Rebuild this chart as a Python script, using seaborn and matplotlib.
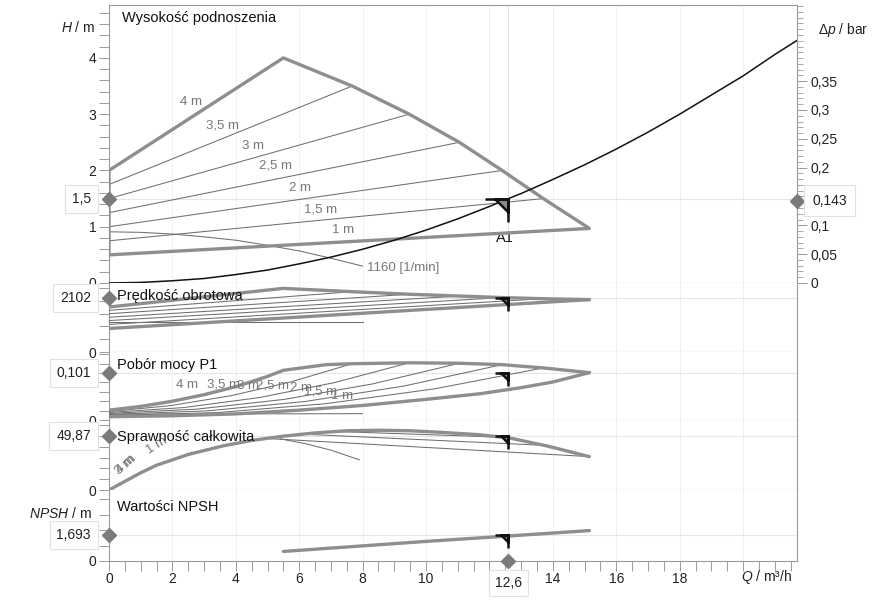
import matplotlib
matplotlib.use("Agg")
import matplotlib.pyplot as plt
from matplotlib.path import Path
from matplotlib.ticker import MultipleLocator, FuncFormatter
import seaborn as sns

# ---------------- operating point A1 ----------------
q_op = 12.6
h_op = 1.5
dp_op = 0.143
n_op = 2102
p1_op = 0.101
eta_op = 49.87
npsh_op = 1.693

# ---------------- head H / m ----------------
h_env_q = [0, 0, 5.5, 7.67, 9.47, 11.05, 12.4, 13.7, 15.15, 0]
h_env_h = [0.5, 2.0, 4.0, 3.5, 3.0, 2.5, 2.0, 1.5, 0.97, 0.5]
h_set_labels = ["3,5 m", "3 m", "2,5 m", "2 m", "1,5 m"]
h_set_q_end = [7.67, 9.47, 11.05, 12.4, 13.7]
h_set_h_start = [1.75, 1.5, 1.25, 1.0, 0.75]
h_set_h_end = [3.5, 3.0, 2.5, 2.0, 1.5]
h_1160_q = [0, 1, 2, 3, 4, 5, 6, 7, 8]
h_1160_h = [0.91, 0.90, 0.87, 0.82, 0.76, 0.67, 0.57, 0.44, 0.30]
sys_q = [0, 1, 2, 3, 4, 5, 6, 7, 8, 9, 10, 11, 12, 12.6, 13, 14, 15, 16, 17, 18, 19, 20, 21, 21.7]
sys_h = [0, 0.01, 0.04, 0.08, 0.15, 0.23, 0.34, 0.46, 0.6, 0.76, 0.94, 1.14, 1.36, 1.5, 1.59,
         1.84, 2.1, 2.38, 2.68, 3.0, 3.34, 3.68, 4.06, 4.31]

# ---------------- speed / rpm ----------------
n_env_q = [0, 5.5, 7.67, 9.47, 11.05, 12.4, 13.7, 15.15]
n_env_v = [1760, 2490, 2360, 2260, 2190, 2130, 2085, 2050]
n_min_q = [0, 15.15]
n_min_v = [920, 2050]
n_set_start = [1630, 1500, 1360, 1230, 1080]
n_set_end = [2360, 2260, 2190, 2130, 2085]
n_1160_q = [0, 8.0]
n_1160_v = [1160, 1160]

# ---------------- power P1 / kW ----------------
p_env_q = [0, 1, 2, 3, 4, 5, 5.5, 6.85, 7.67, 9.47, 11.05, 12.4, 13.7, 15.15]
p_env_v = [0.021, 0.029, 0.040, 0.054, 0.071, 0.093, 0.106, 0.118, 0.120, 0.122, 0.121, 0.118, 0.111, 0.101]
p_min_q = [0, 2, 4, 6, 8, 10, 11.7, 13, 14, 15.15]
p_min_v = [0.007, 0.009, 0.013, 0.021, 0.031, 0.044, 0.056, 0.069, 0.081, 0.101]
p_35_q = [0, 1.92, 3.84, 5.75, 7.67]
p_35_v = [0.018, 0.0305, 0.0517, 0.0815, 0.120]
p_30_q = [0, 2.37, 4.74, 7.10, 9.47]
p_30_v = [0.016, 0.0266, 0.0478, 0.0796, 0.122]
p_25_q = [0, 2.76, 5.53, 8.29, 11.05]
p_25_v = [0.014, 0.0231, 0.044, 0.0766, 0.121]
p_20_q = [0, 3.1, 6.2, 9.3, 12.4]
p_20_v = [0.012, 0.0194, 0.0396, 0.0724, 0.118]
p_15_q = [0, 3.43, 6.85, 10.28, 13.7]
p_15_v = [0.0095, 0.0158, 0.0349, 0.0666, 0.111]
p_1160_q = [0, 8.0]
p_1160_v = [0.0125, 0.0135]
p_labels = ["4 m", "3,5 m", "3 m", "2,5 m", "2 m", "1,5 m", "1 m"]

# ---------------- efficiency / % ----------------
e_env_q = [0, 0.5, 1, 1.5, 2.5, 3.6, 4.5, 5.5, 6.5, 7.5, 8.5, 9.5, 10.5, 11.6, 12.6, 13.8, 15.15]
e_env_v = [0, 8, 16, 23, 33, 41, 46, 50, 53, 55, 55.5, 55, 53.5, 51.5, 48.5, 41, 31]
e_1m_q = [5.0, 15.15]
e_1m_v = [47.8, 31]
e_15_q = [6.0, 13.7]
e_15_v = [52, 41.5]
e_20_q = [7.0, 12.4]
e_20_v = [54.5, 49]
e_1160_q = [5.4, 6.2, 7.0, 7.9]
e_1160_v = [47.5, 43, 37, 28]

# ---------------- NPSH / m ----------------
npsh_q = [5.5, 8, 10, 12.6, 15.15]
npsh_v = [0.62, 0.98, 1.27, 1.62, 1.97]

x_ticks = [0, 2, 4, 6, 8, 10, 12, 14, 16, 18]
x_tick_labels = ["0", "2", "4", "6", "8", "10", "", "14", "16", "18"]
dp_ticks = [0, 0.05, 0.1, 0.15, 0.2, 0.25, 0.3, 0.35]
dp_tick_labels = ["0", "0,05", "0,1", "", "0,2", "0,25", "0,3", "0,35"]

# ---------------- style ----------------
sns.set_style("ticks")
plt.rcParams["font.family"] = ["Liberation Sans", "DejaVu Sans"]
plt.rcParams["mathtext.fontset"] = "custom"
plt.rcParams["mathtext.rm"] = "Liberation Sans"
plt.rcParams["mathtext.it"] = "Liberation Sans:italic"

THICK = "#8e8e8e"
THIN = "#6f6f6f"
SPINE = "#9a9a9a"
FAINT = "#e6e6e6"
LABEL_GREY = "#777777"
MARK = "#7b7b7b"
BOX = dict(boxstyle="square,pad=0.5", fc="white", ec="#e2e2e2", lw=0.8)

W, H = 880, 607
X_LEFT, X_RIGHT = 109, 797
Q_MAX = 21.7

fig = plt.figure(figsize=(W / 100, H / 100), dpi=100)


def panel(top_px, bottom_px):
    return fig.add_axes([X_LEFT / W, 1 - bottom_px / H, (X_RIGHT - X_LEFT) / W,
                         (bottom_px - top_px) / H])


ax_h = panel(5, 283)
ax_n = panel(283, 352)
ax_p = panel(352, 420)
ax_e = panel(420, 490)
ax_s = panel(490, 561)
axes = [ax_h, ax_n, ax_p, ax_e, ax_s]


def line(ax, q, v, thick=False, color=None, lw=None, z=3):
    sns.lineplot(x=q, y=v, ax=ax, sort=False, estimator=None, legend=False,
                 color=color or (THICK if thick else THIN),
                 lw=lw or (2.4 if thick else 0.75), zorder=z)


zero_fmt = FuncFormatter(lambda v, _: "0" if abs(v) < 1e-9 else "")

# A1 marker: bar, stem and filled corner triangle
a1_path = Path(
    [(-0.55, 0), (0, 0), (0, -0.55), (-0.55, 0), (-1, 0), (0.06, 0), (0, 0.04), (0, -1)],
    [Path.MOVETO, Path.LINETO, Path.LINETO, Path.CLOSEPOLY, Path.MOVETO, Path.LINETO,
     Path.MOVETO, Path.LINETO])

for ax in axes:
    ax.set_xlim(0, Q_MAX)
    for s in ["left", "right", "bottom", "top"]:
        ax.spines[s].set_color(SPINE)
        ax.spines[s].set_linewidth(0.8)
    ax.spines["top"].set_visible(ax is ax_h)
    ax.tick_params(axis="y", which="both", direction="out", length=7, width=0.7,
                   color=SPINE, labelsize=10, labelcolor="#222222", pad=2)
    ax.tick_params(axis="x", which="both", bottom=False, labelbottom=False)
    for gq in range(2, 22, 2):
        ax.axvline(gq, color="#efefef", lw=0.6, zorder=0)
    ax.axvline(q_op, color="#dedede", lw=0.7, zorder=0)
    ax.set_xlabel("")
    ax.set_ylabel("")

# ---------------- head panel ----------------
ax_h.set_ylim(0, 4.94)
ax_h.yaxis.set_major_locator(MultipleLocator(1))
ax_h.yaxis.set_minor_locator(MultipleLocator(0.2))
ax_h.axhline(h_op, color=FAINT, lw=0.8, zorder=0)
line(ax_h, h_env_q, h_env_h, thick=True, z=4)
for qe, hs, he in zip(h_set_q_end, h_set_h_start, h_set_h_end):
    line(ax_h, [0, qe], [hs, he])
line(ax_h, h_1160_q, h_1160_h)
line(ax_h, sys_q, sys_h, color="#111111", lw=1.1, z=5)

h_label_pos = [(2.24, 3.22), (3.06, 2.79), (4.2, 2.44), (4.74, 2.08), (5.68, 1.69), (6.16, 1.30), (7.04, 0.94)]
for txt, (lq, lh) in zip(["4 m"] + h_set_labels + ["1 m"], h_label_pos):
    ax_h.text(lq, lh, txt, color=LABEL_GREY, fontsize=9.5, ha="left", va="center", zorder=6)
ax_h.text(8.15, 0.27, "1160 [1/min]", color=LABEL_GREY, fontsize=9.5, ha="left", va="center")
ax_h.text(12.5, 0.8, "A1", color="#111111", fontsize=10.5, ha="center", va="center")
ax_h.text(0.019, 0.953, "Wysokość podnoszenia", transform=ax_h.transAxes, fontsize=10.5,
          ha="left", va="center", color="#111111")

# differential pressure scale on the right
ax_dp = ax_h.twinx()
ax_dp.set_ylim(0, 0.482)
ax_dp.set_yticks(dp_ticks)
ax_dp.set_yticklabels(dp_tick_labels)
ax_dp.yaxis.set_minor_locator(MultipleLocator(0.01))
ax_dp.tick_params(axis="y", which="major", direction="out", length=7, width=0.7,
                  color=SPINE, labelsize=10, labelcolor="#222222", pad=3)
ax_dp.tick_params(axis="y", which="minor", direction="out", length=4, width=0.6, color=SPINE)
for s in ["left", "right", "bottom", "top"]:
    ax_dp.spines[s].set_visible(False)

# ---------------- speed panel ----------------
ax_n.set_ylim(0, 2700)
ax_n.yaxis.set_major_locator(MultipleLocator(500))
ax_n.axhline(n_op, color=FAINT, lw=0.8, zorder=0)
line(ax_n, n_env_q, n_env_v, thick=True, z=4)
line(ax_n, n_min_q, n_min_v, thick=True, z=4)
for qe, vs, ve in zip(h_set_q_end, n_set_start, n_set_end):
    line(ax_n, [0, qe], [vs, ve])
line(ax_n, n_1160_q, n_1160_v)
ax_n.text(0.0116, 0.81, "Prędkość obrotowa", transform=ax_n.transAxes, fontsize=10.5,
          ha="left", va="center", color="#111111", zorder=7)

# ---------------- power panel ----------------
ax_p.set_ylim(0, 0.145)
ax_p.yaxis.set_major_locator(MultipleLocator(0.02))
ax_p.axhline(p1_op, color=FAINT, lw=0.8, zorder=0)
line(ax_p, p_env_q, p_env_v, thick=True, z=4)
line(ax_p, p_min_q, p_min_v, thick=True, z=4)
for q, v in [(p_35_q, p_35_v), (p_30_q, p_30_v), (p_25_q, p_25_v), (p_20_q, p_20_v), (p_15_q, p_15_v)]:
    line(ax_p, q, v)
line(ax_p, p_1160_q, p_1160_v)
p_label_pos = [(2.1, 0.0747), (3.1, 0.0747), (4.05, 0.0726), (4.65, 0.0726), (5.7, 0.068), (6.15, 0.060), (7.0, 0.051)]
for txt, (lq, lv) in zip(p_labels, p_label_pos):
    ax_p.text(lq, lv, txt, color=LABEL_GREY, fontsize=9.5, ha="left", va="center", zorder=6)
ax_p.text(0.0116, 0.81, "Pobór mocy P1", transform=ax_p.transAxes, fontsize=10.5,
          ha="left", va="center", color="#111111", zorder=7)

# ---------------- efficiency panel ----------------
ax_e.set_ylim(0, 65)
ax_e.yaxis.set_major_locator(MultipleLocator(10))
ax_e.axhline(eta_op, color=FAINT, lw=0.8, zorder=0)
line(ax_e, e_env_q, e_env_v, thick=True, z=4)
for q, v in [(e_1m_q, e_1m_v), (e_15_q, e_15_v), (e_20_q, e_20_v), (e_1160_q, e_1160_v)]:
    line(ax_e, q, v)
ax_e.text(0.55, 24, "4 m", color=LABEL_GREY, fontsize=9.5, rotation=42, ha="center", va="center")
ax_e.text(0.5, 23, "3 m", color=LABEL_GREY, fontsize=9.5, rotation=42, ha="center", va="center")
ax_e.text(1.5, 41, "1 m", color=LABEL_GREY, fontsize=9.5, rotation=32, ha="center", va="center")
ax_e.text(0.0116, 0.757, "Sprawność całkowita", transform=ax_e.transAxes, fontsize=10.5,
          ha="left", va="center", color="#111111", zorder=7)

# ---------------- NPSH panel ----------------
ax_s.set_ylim(0, 4.6)
ax_s.yaxis.set_major_locator(MultipleLocator(1))
ax_s.axhline(npsh_op, color=FAINT, lw=0.8, zorder=0)
line(ax_s, npsh_q, npsh_v, thick=True, z=4)
ax_s.text(0.0116, 0.76, "Wartości NPSH", transform=ax_s.transAxes, fontsize=10.5,
          ha="left", va="center", color="#111111")

for ax in [ax_n, ax_p, ax_e, ax_s]:
    ax.yaxis.set_major_formatter(zero_fmt)

# bottom flow axis
ax_s.set_xticks(x_ticks)
ax_s.set_xticklabels(x_tick_labels)
ax_s.xaxis.set_minor_locator(MultipleLocator(0.5))
ax_s.tick_params(axis="x", which="both", bottom=True, labelbottom=True, direction="out",
                 length=7, width=0.7, color=SPINE, labelsize=10, labelcolor="#222222", pad=1)

# operating point: diamonds, value boxes and A1 markers
for ax, val, txt in [(ax_h, h_op, "1,5"), (ax_n, n_op, "2102"), (ax_p, p1_op, "0,101"),
                     (ax_e, eta_op, "49,87"), (ax_s, npsh_op, "1,693")]:
    ax.plot([0], [val], marker="D", ms=7.5, color=MARK, clip_on=False, zorder=10)
    ax.annotate(txt, xy=(0, val), xycoords=("axes fraction", "data"), xytext=(-13, 0),
                textcoords="offset points", ha="right", va="center", fontsize=10,
                color="#222222", bbox=BOX, zorder=1, annotation_clip=False)
    size = 33 if ax is ax_h else 19
    ax.plot([q_op], [val], marker=a1_path, ms=size, mfc="#8a8a8a", mec="#111111",
            mew=1.8, ls="none", zorder=8, clip_on=False)

ax_dp.plot([Q_MAX], [dp_op], marker="D", ms=7.5, color=MARK, clip_on=False, zorder=10)
ax_dp.annotate("0,143", xy=(1, dp_op), xycoords=("axes fraction", "data"), xytext=(11, 0),
               textcoords="offset points", ha="left", va="center", fontsize=10,
               color="#222222", bbox=dict(boxstyle="square,pad=0.6", fc="white", ec="#e2e2e2", lw=0.8),
               zorder=10, annotation_clip=False)
ax_s.plot([q_op], [0], marker="D", ms=7.5, color=MARK, clip_on=False, zorder=10)
ax_s.annotate("12,6", xy=(q_op, 0), xycoords="data", xytext=(0, -16),
              textcoords="offset points", ha="center", va="center", fontsize=10,
              color="#222222", bbox=dict(boxstyle="square,pad=0.45", fc="white", ec="#e2e2e2", lw=0.8),
              annotation_clip=False)

# axis titles
fig.text(95 / W, 1 - 28 / H, r"$H$ / m", ha="right", va="center", fontsize=10, color="#222222")
fig.text(818 / W, 1 - 30 / H, r"$\mathit{\Delta p}$ / bar", ha="left", va="center", fontsize=10, color="#222222")
fig.text(92 / W, 1 - 513 / H, r"$NPSH$ / m", ha="right", va="center", fontsize=10, color="#222222")
fig.text(792 / W, 1 - 577 / H, r"$Q$ / m³/h", ha="right", va="center", fontsize=10, color="#222222")

fig.savefig("out.png", dpi=100)
